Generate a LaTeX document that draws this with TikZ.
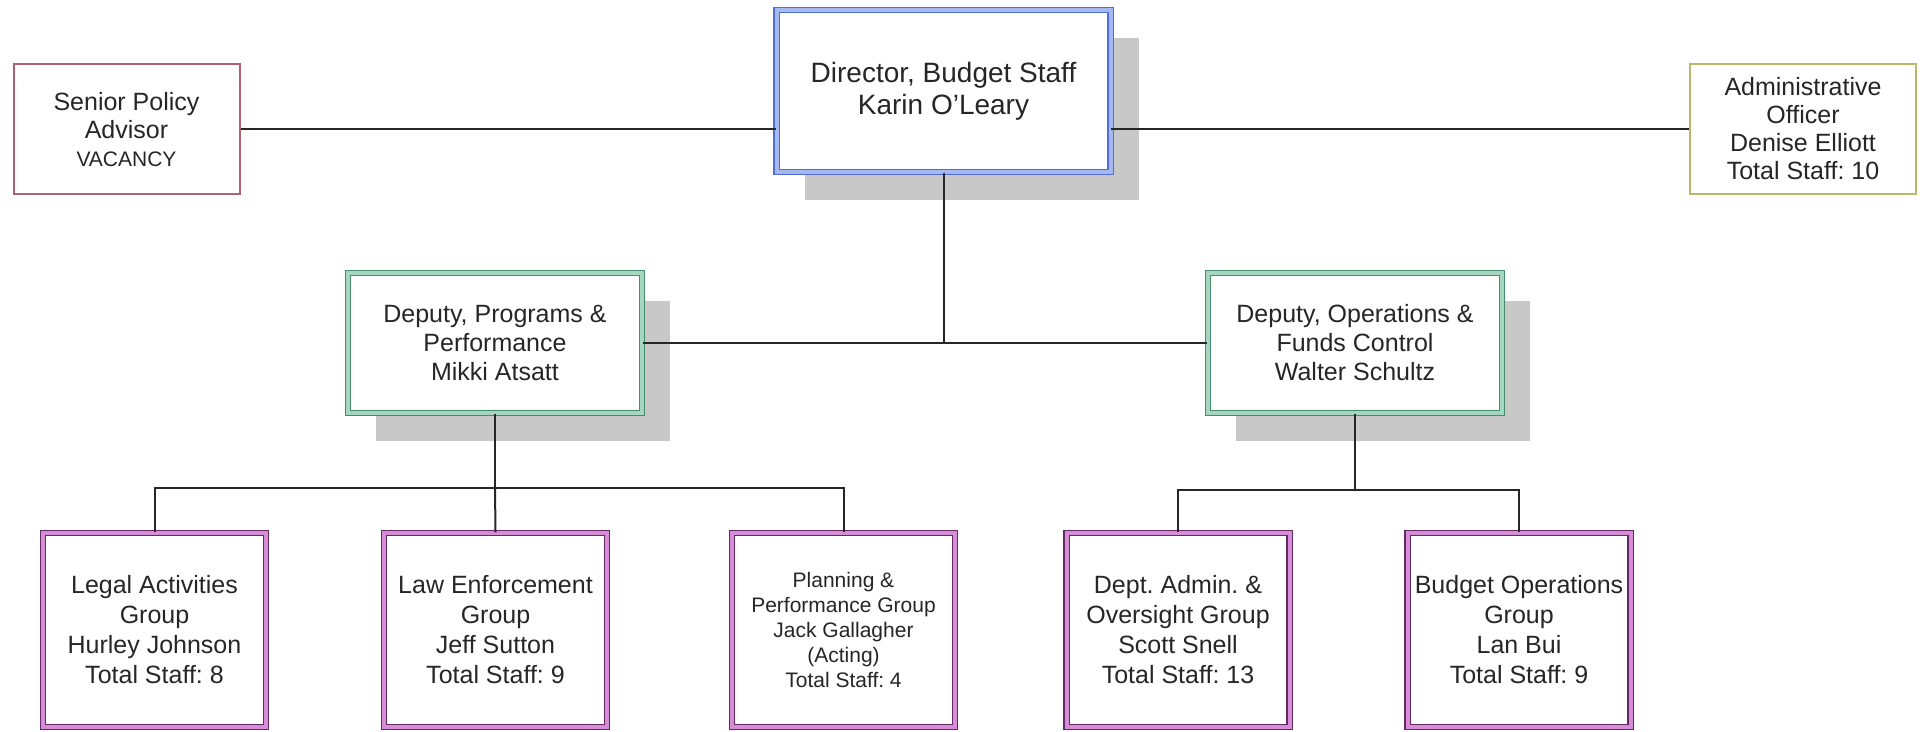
\documentclass[tikz,border=0pt]{standalone}
\usepackage{fontspec}
\setmainfont{Liberation Sans}
\usetikzlibrary{shadows}
\definecolor{seniorred}{RGB}{170,100,110}
\definecolor{adminkhaki}{RGB}{185,185,105}
\definecolor{dirdark}{RGB}{80,110,215}
\definecolor{dirlight}{RGB}{165,185,240}
\definecolor{depdark}{RGB}{70,140,110}
\definecolor{deplight}{RGB}{165,215,192}
\definecolor{grpdark}{RGB}{100,40,100}
\definecolor{grplight}{RGB}{215,140,215}
\definecolor{shadowgray}{RGB}{200,200,200}
\frenchspacing

\begin{document}
\begin{tikzpicture}[x=0.5pt,y=-0.5pt]
\tikzstyle{txt}=[text=black!85, align=center, inner sep=0pt, fill=white]
\tikzstyle{single}=[txt, draw, line width=1pt, font=\fontsize{12.5}{14}\selectfont, minimum width=113pt, minimum height=65pt]
\tikzstyle{dbl}=[txt, line width=0.6pt, double distance=2pt]
\tikzstyle{shade}=[drop shadow={shadow xshift=14pt, shadow yshift=-14pt, fill=shadowgray, opacity=1}]
\tikzstyle{director}=[dbl, shade, draw=dirdark, double=dirlight, font=\fontsize{14}{16}\selectfont, minimum width=167pt, minimum height=81pt]
\tikzstyle{deputy}=[dbl, shade, draw=depdark, double=deplight, font=\fontsize{12.5}{14.5}\selectfont, minimum width=147pt, minimum height=70pt]
\tikzstyle{group}=[dbl, draw=grpdark, double=grplight, font=\fontsize{12.5}{15}\selectfont, minimum width=111.5pt, minimum height=97pt]
\tikzstyle{link}=[line width=1pt, black!85]

\fill[white] (0,0) rectangle (1923,732);
\useasboundingbox (0,0) rectangle (1923,732);

\node[single, draw=seniorred] (senior) at (126.5,129.5) {Senior Policy\\Advisor\\{\fontsize{10.5}{14}\selectfont VACANCY}};
\node[single, draw=adminkhaki] (admin) at (1803,129) {Administrative\\Officer\\Denise Elliott\\Total Staff: 10};

\node[director] (dir) at (943.5,91) {Director, Budget Staff\\Karin O'Leary};

\node[deputy] (depP) at (495,343) {Deputy, Programs \&\\Performance\\Mikki Atsatt};
\node[deputy] (depO) at (1355,343) {Deputy, Operations \&\\Funds Control\\Walter Schultz};

\draw[link] (senior.east) -- (senior.east -| dir.west);
\draw[link] (dir.east |- admin.west) -- (admin.west);
\draw[link] (dir.south) -- (dir.south |- depP.east);
\draw[link] (depP.east) -- (depO.west);

\node[group] (legal) at (154.5,630) {Legal Activities\\Group\\Hurley Johnson\\Total Staff: 8};
\node[group] (law) at (495.5,630) {Law Enforcement\\Group\\Jeff Sutton\\Total Staff: 9};
\node[group, font=\fontsize{10.5}{12.5}\selectfont] (plan) at (843.5,630) {Planning \&\\Performance Group\\Jack Gallagher\\(Acting)\\Total Staff: 4};
\node[group] (dept) at (1178,630) {Dept. Admin. \&\\Oversight Group\\Scott Snell\\Total Staff: 13};
\node[group] (budget) at (1519,630) {Budget Operations\\Group\\Lan Bui\\Total Staff: 9};

\coordinate (busP) at (495,488);
\coordinate (busO) at (1355,490);
\draw[link, line width=1.4pt] (depP.south) -- (busP);
\draw[link] (legal.north) |- (busP) -| (plan.north);
\draw[link] (busP) -- (law.north);
\draw[link, line width=1.4pt] (depO.south) -- (busO);
\draw[link] (dept.north) |- (busO) -| (budget.north);
\end{tikzpicture}
\end{document}
